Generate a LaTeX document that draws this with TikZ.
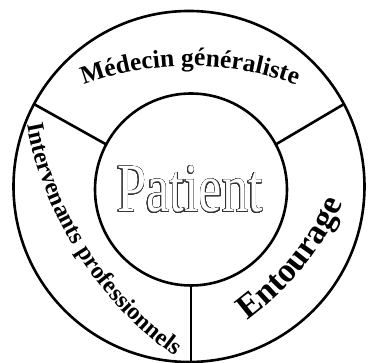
\documentclass[tikz,border=0pt]{standalone}
\usepackage{fontspec}
\setmainfont{Liberation Serif}
\usepackage{contour}
\usetikzlibrary{decorations.text}
\contourlength{0.8pt}
\contournumber{32}
\tikzset{
  ring/.style={circle, draw=black, line width=2.6pt, inner sep=0pt, outer sep=0pt},
  divider/.style={draw=black, line width=2.6pt},
}
\begin{document}
\begin{tikzpicture}[x=1pt,y=1pt]
\useasboundingbox (0,0) rectangle (368,363);
\node[ring, minimum size=351pt] (out) at (189,176.5) {};
\node[ring, minimum size=192pt] (in) at (191,173.5) {};
\draw[divider] (in.152) -- (out.152);
\draw[divider] (in.28) -- (out.28);
\draw[divider] (in.south) -- (in.south |- out.south);
\node[anchor=base, inner sep=0pt] (pat) at (190,151)
  {\scalebox{0.76}[1]{\fontsize{69}{69}\selectfont\contour{black!80}{\textcolor{white}{Patient}}}};
\path[decorate, decoration={text along path, text align=center,
  text={|\fontsize{25.5}{25.5}\selectfont\bfseries|Médecin généraliste}}]
  (190,-8) ++(118:305) arc[start angle=118, end angle=62, radius=305];
\path[decorate, decoration={text along path, text align=center,
  text={|\fontsize{24}{24}\selectfont\bfseries|Intervenants professionnels}}]
  (387,305) ++(186:366) arc[start angle=186, end angle=239, radius=366];
\path[decorate, decoration={text along path, text align=center,
  text={|\fontsize{34}{34}\selectfont\bfseries|Entourage}}]
  (68,285) ++(-60:302) arc[start angle=-60, end angle=-18, radius=302];
\end{tikzpicture}
\end{document}
